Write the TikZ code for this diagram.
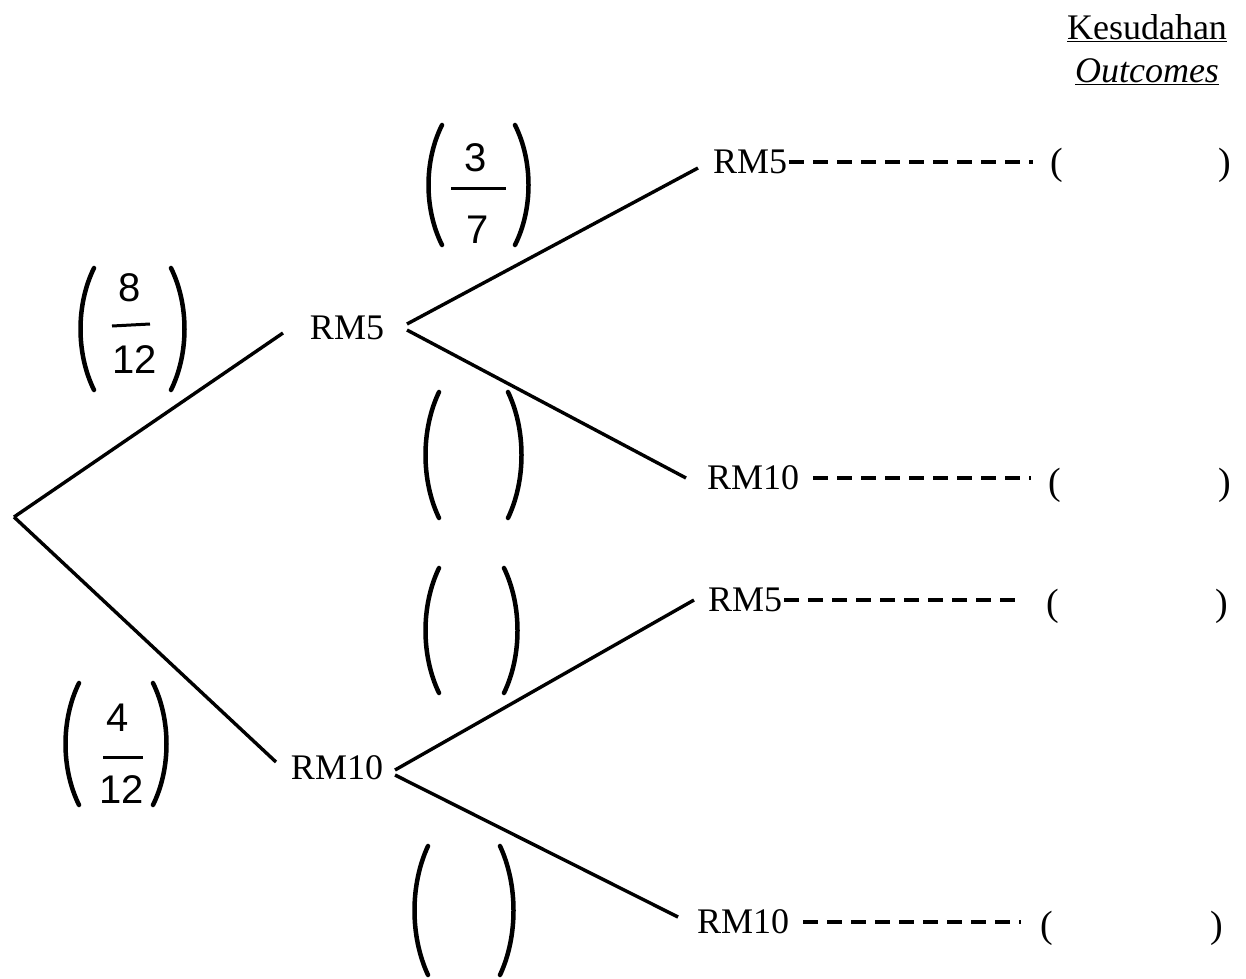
\documentclass[tikz,border=0pt]{standalone}
\usepackage{fontspec}
\setmainfont{Liberation Serif}
\newfontfamily\handfont{Liberation Sans}
\begin{document}
\begin{tikzpicture}[x=1pt,y=-1pt,
  lbl/.style={font=\fontsize{36}{43}\selectfont, inner sep=0pt, outer sep=0pt},
  paren/.style={font=\fontsize{38}{43}\selectfont, inner sep=0pt, outer sep=0pt},
  branch/.style={line width=3.4pt},
  dashline/.style={line width=3.4pt, dash pattern=on 15pt off 9pt},
  hand/.style={line width=4.5pt, line cap=round},
  handtxt/.style={font=\handfont\fontsize{40}{44}\selectfont, inner sep=0pt}]
\useasboundingbox (0,0) rectangle (1246,978);
\fill[white] (0,0) rectangle (1246,978);

% heading
\node[lbl] (head1) at (1147,28) {\underline{Kesudahan}};
\node[lbl] (head2) at (1147,72) {\underline{\itshape Outcomes}};

% tree nodes
\coordinate (root) at (14,517);
\node[lbl] (m1) at (347,328) {RM5};
\node[lbl] (m2) at (337,768) {RM10};
\node[lbl] (t1) at (750,162) {RM5};
\node[lbl] (t2) at (753,478) {RM10};
\node[lbl] (t3) at (745,600) {RM5};
\node[lbl] (t4) at (743,922) {RM10};

\draw[branch] (root) -- ([xshift=-27pt,yshift=-5pt]m1.west);
\draw[branch] (root) -- ([xshift=-15pt,yshift=6pt]m2.west);
\draw[branch] ([xshift=23pt,yshift=4pt]m1.east) -- ([xshift=-15pt,yshift=-6pt]t1.west);
\draw[branch] ([xshift=23pt,yshift=-2pt]m1.east) -- ([xshift=-21pt]t2.west);
\draw[branch] ([xshift=12pt,yshift=-2pt]m2.east) -- ([xshift=-14pt]t3.west);
\draw[branch] ([xshift=12pt,yshift=-7pt]m2.east) -- ([xshift=-19pt,yshift=5pt]t4.west);

% outcome brackets
\node[paren] (l1) at (1057,165) {(};
\node[paren] (r1) at (1225,165) {)};
\node[paren] (l2) at (1055,485) {(};
\node[paren] (r2) at (1225,485) {)};
\node[paren] (l3) at (1053,606) {(};
\node[paren] (r3) at (1222,606) {)};
\node[paren] (l4) at (1047,928) {(};
\node[paren] (r4) at (1217,928) {)};

\draw[dashline, shorten <=2pt, shorten >=18pt] (t1.east) -- (t1.east -| l1.west);
\draw[dashline, shorten <=14pt, shorten >=18pt] (t2.east) -- (t2.east -| l2.west);
\draw[dashline, shorten <=2pt, shorten >=26pt] (t3.east) -- (t3.east -| l3.west);
\draw[dashline, shorten <=14pt, shorten >=20pt] (t4.east) -- (t4.east -| l4.west);

% handwritten parentheses
\newcommand{\hlparen}[3]{\draw[hand] ({#1+12},#2) .. controls ({#1-6},{#2+0.3*(#3-#2)}) and ({#1-6},{#3-0.3*(#3-#2)}) .. ({#1+12},#3);}
\newcommand{\hrparen}[3]{\draw[hand] ({#1-12},#2) .. controls ({#1+6},{#2+0.3*(#3-#2)}) and ({#1+6},{#3-0.3*(#3-#2)}) .. ({#1-12},#3);}

% 3/7
\hlparen{430}{125}{245}\hrparen{527}{125}{245}
\node[handtxt] (n37) at (476,158) {3};
\node[handtxt] (d37) at (478,230) {7};
\draw[line width=3pt] (451,188) -- (506,188);

% 8/12
\hlparen{82}{268}{390}\hrparen{183}{268}{390}
\node[handtxt] (n812) at (130,288) {8};
\node[handtxt] (d812) at (135,360) {12};
\draw[line width=3pt] (112,326) -- (150,324);

% empty
\hlparen{427}{392}{518}\hrparen{520}{392}{518}
\hlparen{427}{568}{693}\hrparen{516}{568}{693}

% 4/12
\hlparen{67}{683}{805}\hrparen{165}{683}{805}
\node[handtxt] (n412) at (118,718) {4};
\node[handtxt] (d412) at (122,790) {12};
\draw[line width=3pt] (103,757) -- (143,757);

% empty
\hlparen{416}{846}{975}\hrparen{512}{846}{975}
\end{tikzpicture}
\end{document}
